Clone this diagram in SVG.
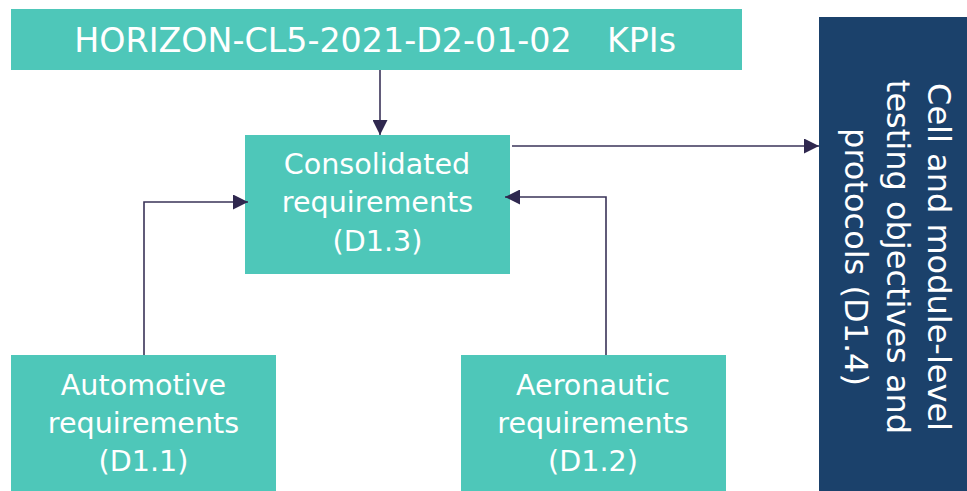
<svg xmlns="http://www.w3.org/2000/svg" width="967" height="491" viewBox="0 0 967 491">
<style>
.box{fill:#4EC7B9}
.dark{fill:#1B416B}
.t{font-family:"DejaVu Sans","Verdana",sans-serif;fill:#FFFFFF;text-anchor:middle}
.b{font-size:28.6px}
.d{font-size:32px}
.h{font-size:33.3px}
.conn{fill:none;stroke:#3A3358;stroke-width:1.6}
</style>
<defs>
<marker id="ah" markerUnits="userSpaceOnUse" markerWidth="15" markerHeight="15" refX="15" refY="7.5" orient="auto">
<path d="M0,0 L15,7.5 L0,15 z" fill="#2F284F"/>
</marker>
</defs>
<g id="kpis">
<rect class="box" x="11" y="9" width="731" height="61"/>
<text class="t h" x="323" y="51.5">HORIZON-CL5-2021-D2-01-02</text>
<text class="t h" x="641.5" y="51.5">KPIs</text>
</g>
<g id="consolidated">
<rect class="box" x="245" y="135" width="265" height="139"/>
<text class="t b" x="377" y="174">Consolidated</text>
<text class="t b" x="377.5" y="212">requirements</text>
<text class="t b" x="377.5" y="250.5">(D1.3)</text>
</g>
<g id="automotive">
<rect class="box" x="11" y="355" width="265" height="136"/>
<text class="t b" x="143.5" y="395">Automotive</text>
<text class="t b" x="143.5" y="433">requirements</text>
<text class="t b" x="143.5" y="471">(D1.1)</text>
</g>
<g id="aeronautic">
<rect class="box" x="461" y="355" width="265" height="136"/>
<text class="t b" x="593" y="395">Aeronautic</text>
<text class="t b" x="593" y="433">requirements</text>
<text class="t b" x="593" y="471">(D1.2)</text>
</g>
<g id="testing">
<rect class="dark" x="819" y="17" width="148" height="474"/>
<text class="t d" transform="translate(928,257) rotate(90)">Cell and module-level</text>
<text class="t d" transform="translate(886.5,257) rotate(90)">testing objectives and</text>
<text class="t d" transform="translate(845,257) rotate(90)">protocols (D1.4)</text>
</g>
<g id="connectors">
<path class="conn" d="M380,70 V135" marker-end="url(#ah)"/>
<path class="conn" d="M512,146 H819" marker-end="url(#ah)"/>
<path class="conn" d="M144,355 V202 H248" marker-end="url(#ah)"/>
<path class="conn" d="M606,355 V197 H505" marker-end="url(#ah)"/>
</g>
</svg>
